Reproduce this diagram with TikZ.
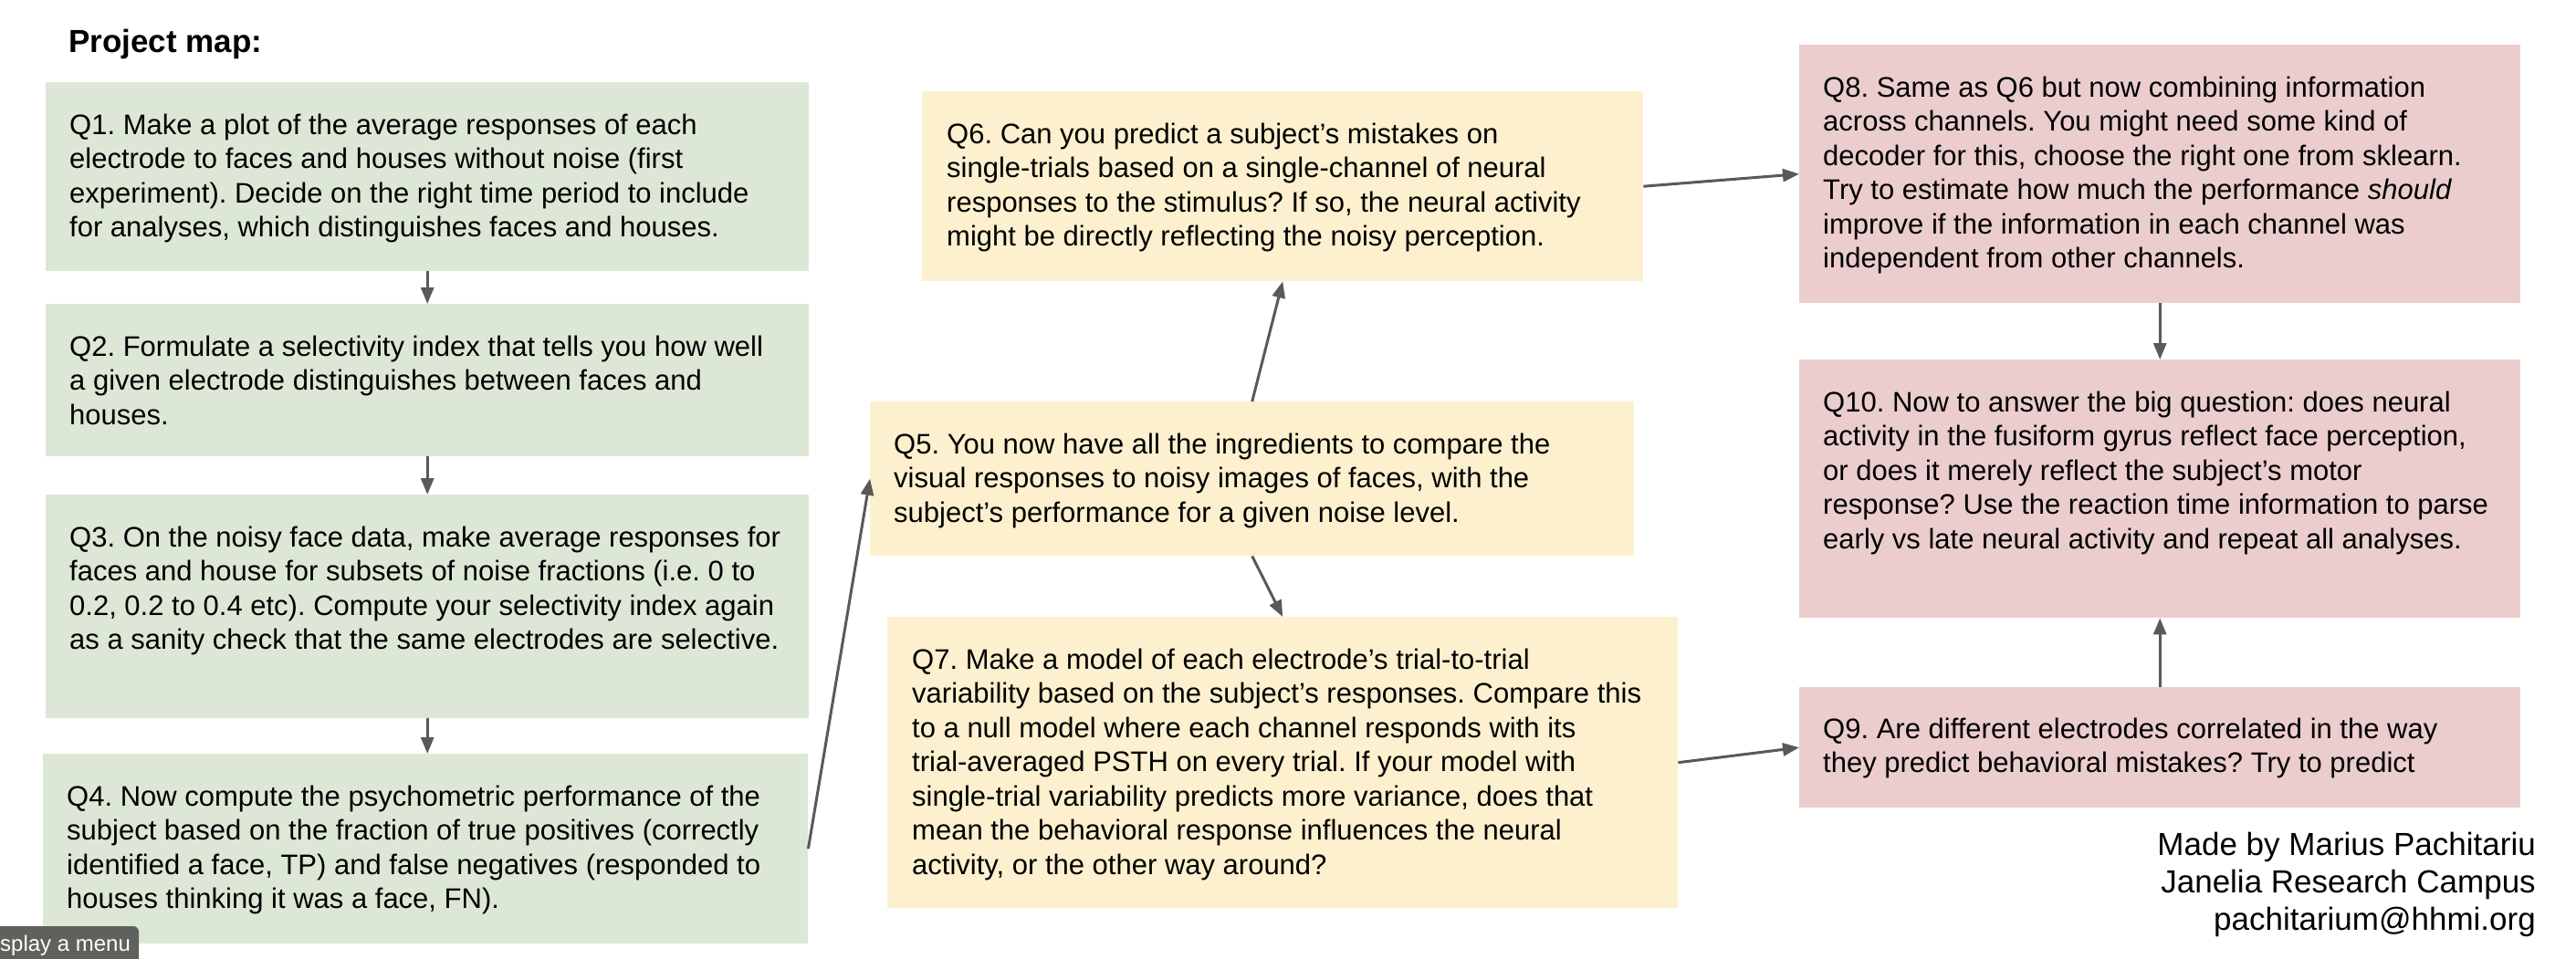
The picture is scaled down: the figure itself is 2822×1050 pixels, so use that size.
\documentclass[tikz,border=0pt]{standalone}
\usepackage{fontspec}
\setmainfont{Liberation Sans}
\usetikzlibrary{arrows.meta}
\definecolor{gfill}{HTML}{DCE8D5}
\definecolor{yfill}{HTML}{FCF0CE}
\definecolor{rfill}{HTML}{EBCDCD}
\definecolor{arrgray}{HTML}{595959}
\definecolor{menugray}{HTML}{5F615C}
\frenchspacing
\begin{document}
\begin{tikzpicture}[x=1pt,y=-1pt,
  qbox/.style={draw=none, inner sep=0pt, anchor=north west},
  qtext/.style={align=left, inner sep=0pt, anchor=base west, font=\fontsize{31}{37.5}\selectfont},
  arr/.style={draw=arrgray, line width=3pt, -{Triangle[length=18pt,width=14pt]}}]
\useasboundingbox (0,0) rectangle (2822,1050);
\fill[white] (0,0) rectangle (2822,1050);

\node[anchor=base west, inner sep=0pt, font=\fontsize{35}{40}\selectfont\bfseries] (title) at (75,57) {Project map:};

% boxes
\node[qbox, fill=gfill, minimum width=836pt, minimum height=207pt] (q1) at (50,90) {};
\node[qbox, fill=gfill, minimum width=836pt, minimum height=167pt] (q2) at (50,333) {};
\node[qbox, fill=gfill, minimum width=836pt, minimum height=245pt] (q3) at (50,542) {};
\node[qbox, fill=gfill, minimum width=838pt, minimum height=208pt] (q4) at (47,826) {};
\node[qbox, fill=yfill, minimum width=837pt, minimum height=169pt] (q5) at (953,440) {};
\node[qbox, fill=yfill, minimum width=790pt, minimum height=208pt] (q6) at (1010,100) {};
\node[qbox, fill=yfill, minimum width=866pt, minimum height=319pt] (q7) at (972,676) {};
\node[qbox, fill=rfill, minimum width=790pt, minimum height=283pt] (q8) at (1971,49) {};
\node[qbox, fill=rfill, minimum width=790pt, minimum height=283pt] (q10) at (1971,394) {};
\node[qbox, fill=rfill, minimum width=790pt, minimum height=132pt] (q9) at (1971,753) {};

% texts (anchor = baseline of last line)
\node[qtext] (q1t) at ([xshift=26pt,yshift=-169.5pt]q1.north west) {Q1. Make a plot of the average responses of each\\electrode to faces and houses without noise (first\\experiment). Decide on the right time period to include\\for analyses, which distinguishes faces and houses.};
\node[qtext] (q2t) at ([xshift=26pt,yshift=-132pt]q2.north west) {Q2. Formulate a selectivity index that tells you how well\\a given electrode distinguishes between faces and\\houses.};
\node[qtext] (q3t) at ([xshift=26pt,yshift=-169.5pt]q3.north west) {Q3. On the noisy face data, make average responses for\\faces and house for subsets of noise fractions (i.e. 0 to\\0.2, 0.2 to 0.4 etc). Compute your selectivity index again\\as a sanity check that the same electrodes are selective.};
\node[qtext] (q4t) at ([xshift=26pt,yshift=-169.5pt]q4.north west) {Q4. Now compute the psychometric performance of the\\subject based on the fraction of true positives (correctly\\identified a face, TP) and false negatives (responded to\\houses thinking it was a face, FN).};
\node[qtext] (q5t) at ([xshift=26pt,yshift=-132pt]q5.north west) {Q5. You now have all the ingredients to compare the\\visual responses to noisy images of faces, with the\\subject’s performance for a given noise level.};
\node[qtext] (q6t) at ([xshift=27pt,yshift=-169.5pt]q6.north west) {Q6. Can you predict a subject’s mistakes on\\single-trials based on a single-channel of neural\\responses to the stimulus? If so, the neural activity\\might be directly reflecting the noisy perception.};
\node[qtext] (q7t) at ([xshift=27pt,yshift=-282pt]q7.north west) {Q7. Make a model of each electrode’s trial-to-trial\\variability based on the subject’s responses. Compare this\\to a null model where each channel responds with its\\trial-averaged PSTH on every trial. If your model with\\single-trial variability predicts more variance, does that\\mean the behavioral response influences the neural\\activity, or the other way around?};
\node[qtext] (q8t) at ([xshift=26pt,yshift=-244.5pt]q8.north west) {Q8. Same as Q6 but now combining information\\across channels. You might need some kind of\\decoder for this, choose the right one from sklearn.\\Try to estimate how much the performance \textit{should}\\improve if the information in each channel was\\independent from other channels.};
\node[qtext] (q10t) at ([xshift=26pt,yshift=-207pt]q10.north west) {Q10. Now to answer the big question: does neural\\activity in the fusiform gyrus reflect face perception,\\or does it merely reflect the subject’s motor\\response? Use the reaction time information to parse\\early vs late neural activity and repeat all analyses.};
\node[qtext] (q9t) at ([xshift=26pt,yshift=-93.5pt]q9.north west) {Q9. Are different electrodes correlated in the way\\they predict behavioral mistakes? Try to predict};

% connectors
\draw[arr] (q1.south) -- (q2.north);
\draw[arr] (q2.south) -- (q3.north);
\draw[arr] (q3.south) -- (q3.south |- q4.north);
\draw[arr] (q4.east) -- (q5.west);
\draw[arr] (q5.north) -- (q6.south);
\draw[arr] (q5.south) -- (q7.north);
\draw[arr] (q6.east) -- (q8.west);
\draw[arr] (q7.east) -- (q9.west);
\draw[arr] (q8.south) -- (q10.north);
\draw[arr] (q9.north) -- (q10.south);

% footer (anchor = baseline of last line)
\node[anchor=base east, align=right, inner sep=0pt, font=\fontsize{35}{41}\selectfont] (credit) at (2778,1019) {Made by Marius Pachitariu\\Janelia Research Campus\\pachitarium@hhmi.org};

% menu overlay
\fill[menugray, rounded corners=6pt] (-20,1015) rectangle (152,1070);
\node[anchor=base west, inner sep=0pt, text=white, font=\fontsize{24}{28}\selectfont] (menu) at (0,1042) {splay a menu};
\end{tikzpicture}
\end{document}
